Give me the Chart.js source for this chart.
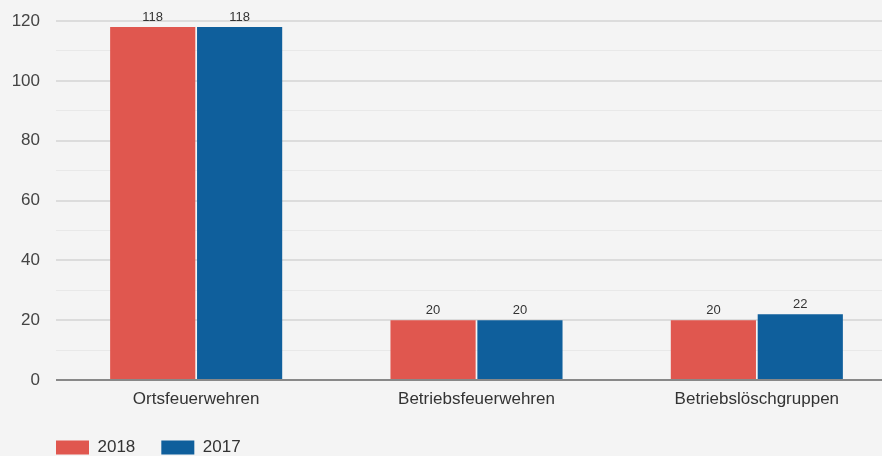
<!DOCTYPE html>
<html>
<head>
<meta charset="utf-8">
<script src="https://cdn.jsdelivr.net/npm/chart.js@4/dist/chart.umd.min.js"></script>
<style>
  html, body { margin: 0; padding: 0; background: #f4f4f4; overflow: hidden; }
  #wrap { width: 900px; height: 456px; }
</style>
</head>
<body>
<div id="wrap"><canvas id="chart"></canvas></div>
<script>
const categories = ['Ortsfeuerwehren', 'Betriebsfeuerwehren', 'Betriebslöschgruppen'];
const values2018 = [118, 20, 20];
const values2017 = [118, 20, 22];
const yTicks = [0, 20, 40, 60, 80, 100, 120];

const FONT = "'Liberation Sans', Arial, sans-serif";

// value labels above each bar
const valueLabels = {
    id: 'valueLabels',
    afterDatasetsDraw(chart) {
        const ctx = chart.ctx;
        ctx.save();
        ctx.font = '13px ' + FONT;
        ctx.fillStyle = '#333';
        ctx.textAlign = 'center';
        ctx.textBaseline = 'bottom';
        chart.data.datasets.forEach((ds, i) => {
            chart.getDatasetMeta(i).data.forEach((bar, j) => {
                ctx.fillText(ds.data[j], bar.x, bar.y - 3);
            });
        });
        ctx.restore();
    }
};

// move legend to bottom-left under the plot
const legendPlace = {
    id: 'legendPlace',
    afterLayout(chart) {
        chart.legend.left = 30;
        chart.legend.top = 413;
    }
};

new Chart(document.getElementById('chart'), {
    type: 'bar',
    data: {
        labels: categories,
        datasets: [
            { label: '2018', data: values2018, backgroundColor: '#e0574f' },
            { label: '2017', data: values2017, backgroundColor: '#0f5f9c' }
        ]
    },
    options: {
        responsive: true,
        maintainAspectRatio: false,
        animation: false,
        layout: { padding: { top: 21, right: 3, bottom: -17, left: 0 } },
        categoryPercentage: 0.62,
        barPercentage: 0.98,
        scales: {
            x: {
                grid: { display: false, drawTicks: false },
                border: { display: false },
                ticks: { color: '#333', font: { family: FONT, size: 17 }, padding: 9 },
                afterFit: s => { s.height = 40; }
            },
            y: {
                min: 0,
                max: 120,
                border: { display: false },
                grid: {
                    drawTicks: false,
                    color: c => c.tick.value === 0 ? '#888' : (c.tick.value % 20 === 0 ? '#dcdcdc' : '#e8e8e8'),
                    lineWidth: c => (c.tick.value % 20 === 0 ? 2 : 1)
                },
                ticks: {
                    stepSize: 10,
                    color: '#444',
                    font: { family: FONT, size: 17 },
                    padding: 16,
                    callback: v => yTicks.includes(v) ? v : ''
                },
                afterFit: s => { s.width = 56; s.paddingTop = 0; s.paddingBottom = 0; }
            }
        },
        plugins: {
            legend: {
                position: 'bottom',
                align: 'start',
                labels: {
                    boxWidth: 33,
                    boxHeight: 14,
                    padding: 26,
                    color: '#333',
                    font: { family: FONT, size: 17 }
                }
            },
            tooltip: { enabled: false }
        }
    },
    plugins: [valueLabels, legendPlace]
});
</script>
</body>
</html>
